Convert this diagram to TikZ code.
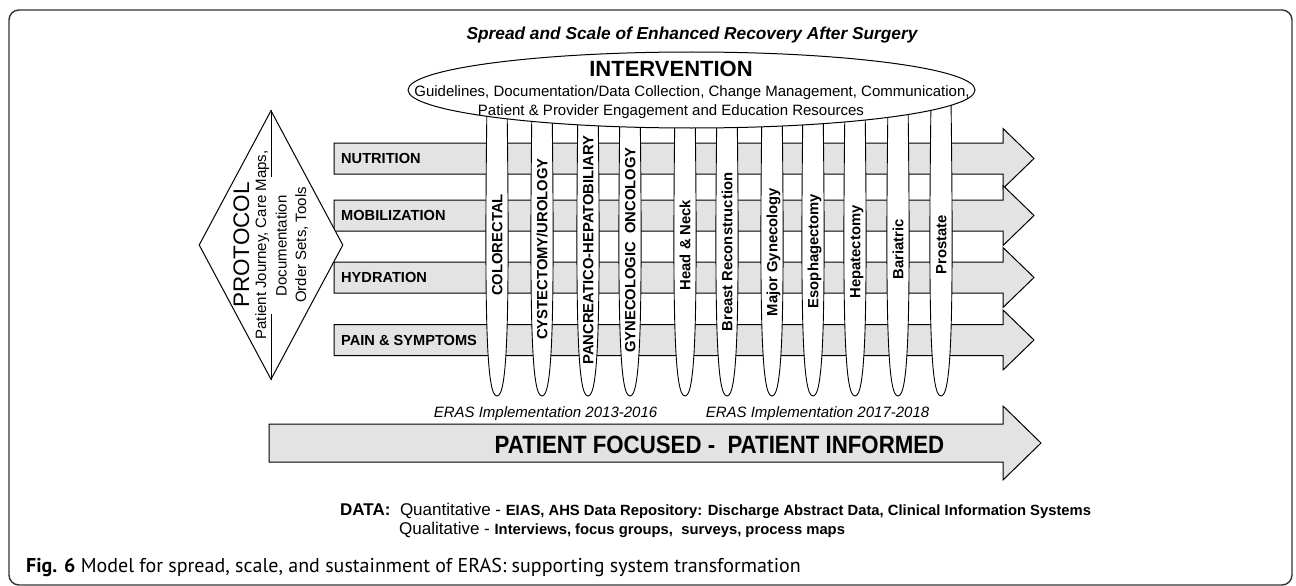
\documentclass[tikz,border=0pt]{standalone}
\usepackage{fontspec}
\setmainfont{Liberation Sans}
\newfontfamily\narrowfont[FakeStretch=0.89]{Liberation Sans}
\newfontfamily\capfont{PT Sans}
\usetikzlibrary{shapes.geometric}

\definecolor{barfill}{gray}{0.89}
\definecolor{framegray}{gray}{0.2}
\newcommand{\fsz}[1]{\fontsize{#1}{#1}\selectfont}

\begin{document}
\begin{tikzpicture}[x=1pt, y=-1pt,
		bararrow/.style={draw=black, fill=barfill, line width=1pt},
		petal/.style={draw=black, fill=white, line width=0.9pt},
		barlabel/.style={font=\fsz{14.6}\bfseries, anchor=base west, inner sep=0pt},
		petallabel/.style={font=\fsz{14.8}\bfseries, rotate=90, anchor=base, inner sep=0pt},
		sidelabel/.style={font=\fsz{15}, rotate=90, anchor=base, inner sep=0pt},
		eraslabel/.style={font=\fsz{15}\itshape, anchor=base, inner sep=0pt}]
	\useasboundingbox (0,0) rectangle (1296,586);
	\draw[framegray, line width=1.4pt, rounded corners=10pt] (9,10) rectangle (1292,585);

	\node[font=\fsz{17.3}\bfseries\itshape, anchor=base, inner sep=0pt] (title) at (692,40)
		{Spread and Scale of Enhanced Recovery After Surgery};

	% the four care elements
	\foreach \y/\lbl [count=\i] in {158.5/NUTRITION, 215.5/MOBILIZATION, 277.5/HYDRATION, 340/PAIN \& SYMPTOMS}
	{
		\filldraw[bararrow] (334,\y-15.5) -- (1003,\y-15.5) -- (1003,\y-30) -- (1034,\y)
			-- (1003,\y+30) -- (1003,\y+15.5) -- (334,\y+15.5) -- cycle;
		\node[barlabel] (bar\i) at (341,\y+5.3) {\lbl};
	}

	% surgical streams hanging from the intervention
	\foreach \x/\yc/\lbl [count=\i] in {497/245/COLORECTAL, 542/249/{CYSTECTOMY/UROLOGY},
			588/250/PANCREATICO-HEPATOBILIARY, 630/250/{GYNECOLOGIC\ \ ONCOLOGY},
			685/245/Head \& Neck, 727/252/Breast Reconstruction, 772/252/Major Gynecology,
			813/251/Esophagectomy, 855/252/Hepatectomy, 898/249/Bariatric, 941/245/Prostate}
	{
		\filldraw[petal] (\x-10,100) .. controls (\x-13,330) and (\x-10,396) .. (\x,396)
			.. controls (\x+10,396) and (\x+13,330) .. (\x+10,100) -- cycle;
		\node[petallabel] (stream\i) at (\x+5.3,\yc) {\lbl};
	}

	\node[ellipse, draw, fill=white, line width=1pt, minimum width=567pt, minimum height=76pt, inner sep=0pt]
		(intervention) at (691.5,90) {};
	\node[font=\fsz{22}\bfseries, anchor=base, inner sep=0pt] (intervtitle) at (671,77) {INTERVENTION};
	\node[font=\fsz{15}, anchor=base, inner sep=0pt] (intervline1) at (692,96)
		{Guidelines, Documentation/Data Collection, Change Management, Communication,};
	\node[font=\fsz{15}, anchor=base, inner sep=0pt] (intervline2) at (671,115.5)
		{Patient \& Provider Engagement and Education Resources};

	% protocol diamond
	\node[diamond, draw, fill=white, line width=1pt, minimum width=144pt, minimum height=269pt, inner sep=0pt]
		(protocol) at (271,245) {};
	\draw[line width=0.9pt] (protocol.north) -- ++(0,67);
	\draw[line width=0.9pt] (protocol.south) -- ++(0,-66);
	\node[font=\fsz{22.5}, rotate=90, anchor=base, inner sep=0pt] (prottitle) at (249,245) {PROTOCOL};
	\node[sidelabel] (prot1) at (266,245) {Patient Journey, Care Maps,};
	\node[sidelabel] (prot2) at (286.5,246) {Documentation};
	\node[sidelabel] (prot3) at (306,245) {Order Sets, Tools};

	\node[eraslabel] (phase1) at (545.5,417) {ERAS Implementation 2013-2016};
	\node[eraslabel] (phase2) at (817.5,417) {ERAS Implementation 2017-2018};

	\filldraw[bararrow] (269,424) -- (1003,424) -- (1003,406) -- (1041,443)
		-- (1003,480) -- (1003,462) -- (269,462) -- cycle;
	\node[font=\narrowfont\fsz{25}\bfseries, anchor=base, inner sep=0pt] (patient) at (719.5,453.5)
		{PATIENT FOCUSED -\ \ PATIENT INFORMED};

	\node[font=\fsz{17}, anchor=base west, inner sep=0pt] (data1) at (340,515)
		{\textbf{DATA:}\ \ Quantitative - {\fsz{14.8}\bfseries EIAS, AHS Data Repository: Discharge Abstract Data, Clinical Information Systems}};
	\node[font=\fsz{17}, anchor=base west, inner sep=0pt] (data2) at (399,534)
		{Qualitative - {\fsz{14.8}\bfseries Interviews, focus groups,\ \ surveys, process maps}};

	\node[font=\capfont\fsz{20}, anchor=base west, inner sep=0pt] (caption) at (26,572)
		{\textbf{Fig. 6} Model for spread, scale, and sustainment of ERAS: supporting system transformation};
\end{tikzpicture}
\end{document}
